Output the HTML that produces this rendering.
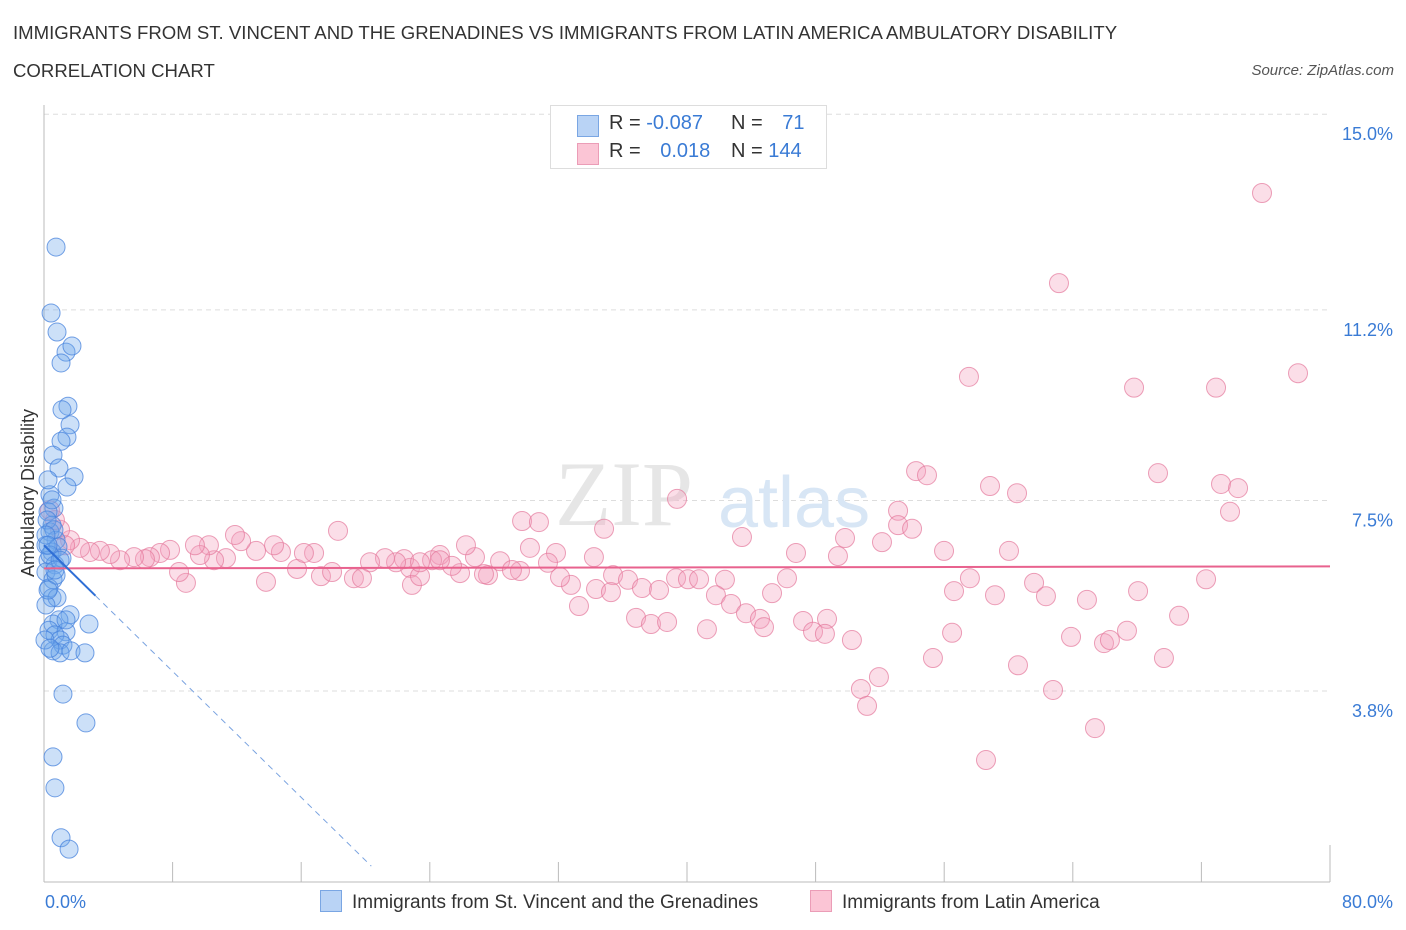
<!DOCTYPE html>
<html><head><meta charset="utf-8"><style>
body{margin:0;background:#fff;font-family:"Liberation Sans",sans-serif;}
#wrap{position:relative;width:1406px;height:930px;overflow:hidden;}
.t{position:absolute;}
</style></head><body>
<div id="wrap">
<div class="t" style="left:13px;top:14px;font-size:18.6px;color:#333;line-height:38px;">IMMIGRANTS FROM ST. VINCENT AND THE GRENADINES VS IMMIGRANTS FROM LATIN AMERICA AMBULATORY DISABILITY<br>CORRELATION CHART</div>
<div class="t" style="right:12px;top:62px;font-size:15px;color:#555;font-style:italic;">Source: ZipAtlas.com</div>
<svg id="svg" width="1406" height="930" style="position:absolute;left:0;top:0"></svg>
</div>
<script>
const xTicks=[0,80];
const yTicks=[3.8,7.5,11.2,15.0];
const blueX=[0.75,0.44,0.81,1.37,1.74,1.06,1.49,1.12,1.62,1.43,1.06,0.56,0.93,1.87,1.43,0.37,0.62,0.25,0.50,0.37,0.75,0.12,0.50,0.25,0.68,0.12,0.56,0.31,0.50,0.81,0.12,1.62,0.93,0.56,2.80,0.31,1.37,0.68,1.00,1.18,0.56,1.00,1.68,2.55,1.18,2.61,0.56,0.68,1.06,1.56,0.25,0.19,0.87,0.37,0.62,0.12,1.12,0.75,0.25,1.37,0.06,0.37,1.00,0.68,0.25,0.50];
const blueY=[12.42,11.14,10.77,10.38,10.50,10.17,9.33,9.26,8.97,8.73,8.65,8.38,8.13,7.96,7.76,7.61,7.35,7.28,7.02,6.89,6.73,6.63,6.50,6.34,6.25,6.11,5.96,5.80,5.61,5.61,5.47,5.28,5.18,5.10,5.10,4.98,4.95,4.89,4.79,4.69,4.58,4.54,4.58,4.54,3.74,3.18,2.52,1.92,0.95,0.73,7.90,7.12,6.60,6.44,6.93,6.83,6.38,6.05,5.76,5.18,4.79,4.63,6.34,6.15,6.63,7.51];
const pinkX=[75.77,63.14,57.54,67.81,72.91,78.01,54.25,54.93,58.85,60.53,69.30,73.22,74.28,73.78,39.38,53.13,53.13,54.00,52.13,49.83,43.42,29.74,30.79,34.84,55.99,60.03,46.78,49.39,39.32,40.06,40.75,42.36,46.22,57.60,61.59,72.29,56.61,59.16,62.33,64.88,68.06,41.80,45.29,42.74,43.67,44.54,44.79,47.22,48.71,47.84,48.58,36.83,37.76,38.76,41.24,50.26,56.49,63.89,65.94,66.31,67.37,70.61,55.30,60.59,69.67,51.94,50.82,51.20,62.77,65.38,58.60,33.28,32.78,32.10,34.34,35.40,36.33,37.20,35.27,38.26,30.23,31.85,34.21,31.35,29.61,27.62,28.37,26.81,26.25,24.63,24.14,22.77,22.40,21.90,21.21,20.28,19.28,19.78,18.29,17.23,17.92,15.74,14.74,16.80,16.17,14.31,13.81,13.19,12.26,11.88,11.32,10.58,10.26,9.70,9.39,8.83,8.40,7.84,7.22,6.59,6.28,5.60,4.73,4.11,3.48,2.86,2.24,1.62,1.00,0.68,0.37,1.31,22.89,23.39,25.88,25.38,27.37,29.11,23.39,24.63];
const pinkY=[13.47,11.72,9.90,9.69,9.69,9.97,8.07,7.99,7.78,7.64,8.03,7.82,7.74,7.28,7.53,7.30,7.02,6.95,6.69,6.77,6.79,7.10,7.08,6.95,6.52,6.52,6.48,6.42,5.99,5.97,5.97,5.96,5.99,5.99,5.90,5.97,5.74,5.66,5.64,5.57,5.74,5.66,5.70,5.49,5.31,5.20,5.04,5.16,5.20,4.95,4.91,5.22,5.10,5.14,5.00,4.79,4.93,4.85,4.73,4.79,4.97,5.26,4.44,4.30,4.44,4.07,3.84,3.51,3.82,3.08,2.46,5.45,5.86,6.01,5.78,6.05,5.96,5.80,5.72,5.76,6.58,6.48,6.40,6.29,6.13,6.05,6.32,6.40,6.63,6.44,6.34,6.19,6.36,6.30,6.38,6.30,5.99,5.99,6.91,6.03,6.11,6.17,6.50,6.48,6.48,6.63,5.92,6.52,6.71,6.83,6.38,6.34,6.63,6.44,6.63,5.90,6.11,6.54,6.48,6.40,6.36,6.40,6.34,6.46,6.52,6.50,6.58,6.73,6.93,7.12,7.31,6.63,5.86,6.03,6.09,6.23,6.07,6.15,6.30,6.34];
const blueTrend=[6.63,-0.306];
const pinkTrend=[6.18,0.0005];

const NS="http://www.w3.org/2000/svg";
const svg=document.getElementById('svg');
const X0=44,X1=1330,YB=882;
function xs(v){return X0+(v-xTicks[0])/(xTicks[1]-xTicks[0])*(X1-X0);}
function ys(v){return 691-(v-3.8)*51.5;}
function el(t,a,p){const e=document.createElementNS(NS,t);for(const k in a)e.setAttribute(k,a[k]);(p||svg).appendChild(e);return e;}

yTicks.forEach(v=>{
 const g=el('line',{x1:X0,x2:X1,y1:ys(v),y2:ys(v),stroke:'#ddd','stroke-dasharray':'5,4'});
 
 
 const t=el('text',{x:1393,y:ys(v)+26,'text-anchor':'end','font-size':18,fill:'#3a7bd5','font-family':'Liberation Sans'});
 t.textContent=v.toFixed(1)+'%';
 
 
});
const ax=el('line',{x1:X0,x2:X1,y1:YB,y2:YB,stroke:'#bbb'});


const ay=el('line',{x1:X0,x2:X0,y1:105,y2:YB,stroke:'#bbb'});


for(let i=0;i<=10;i++){
 const x=X0+i*(X1-X0)/10;
 const tk=el('line',{x1:x,x2:x,y1:i==0||i==10?845:862,y2:YB,stroke:'#bbb'});
 
 
}
xTicks.forEach((v,i)=>{
 const t=el('text',{x:i==0?45:1393,y:908,'text-anchor':i==0?'start':'end','font-size':18,fill:'#3a7bd5','font-family':'Liberation Sans'});
 t.textContent=v.toFixed(1)+'%';
 
 
});
const wm=el('text',{x:555,y:525,'font-size':92,fill:'#e6e6e6','font-family':'Liberation Serif'});
wm.textContent='ZIP';


const wm2=el('text',{x:718,y:527,'font-size':72,fill:'#d8e6f5','font-family':'Liberation Sans'});
wm2.textContent='atlas';



const yl=el('text',{x:0,y:0,transform:'translate(34,493) rotate(-90)','text-anchor':'middle','font-size':18,fill:'#333','font-family':'Liberation Sans'});
yl.textContent='Ambulatory Disability';



pinkX.forEach((v,i)=>{
 const c=el('circle',{cx:xs(v),cy:ys(pinkY[i]),r:9.5,fill:'rgba(244,160,188,0.35)',stroke:'rgba(228,120,155,0.7)','stroke-width':1});
 
 
});
blueX.forEach((v,i)=>{
 const c=el('circle',{cx:xs(v),cy:ys(blueY[i]),r:9,fill:'rgba(110,165,235,0.35)',stroke:'rgba(70,130,220,0.75)','stroke-width':1});
 
 
});
const pt=el('line',{x1:xs(0),x2:xs(80),y1:ys(pinkTrend[0]),y2:ys(pinkTrend[0]+pinkTrend[1]*80),stroke:'#e8628e','stroke-width':2});


const bt=el('line',{x1:xs(0),x2:xs(3.2),y1:ys(blueTrend[0]),y2:ys(blueTrend[0]+blueTrend[1]*3.2),stroke:'#2f6fd6','stroke-width':2});


const bxEnd=(0.4-blueTrend[0])/blueTrend[1];
const bd=el('line',{x1:xs(3.2),x2:xs(bxEnd),y1:ys(blueTrend[0]+blueTrend[1]*3.2),y2:ys(0.4),stroke:'#7aa3e0','stroke-width':1,'stroke-dasharray':'6,5'});


</script>
<div class="t" style="left:550px;top:105px;width:275px;height:62px;border:1px solid #ddd;background:#fff;font-size:20px;color:#333;">
 <div style="position:absolute;left:26px;top:9px;width:20px;height:20px;background:#b9d3f5;border:1px solid #7aa6e3;"></div>
 <div style="position:absolute;left:58px;top:6px;">R = <span style="color:#3a7bd5">-0.087</span></div>
 <div style="position:absolute;left:180px;top:6px;">N = <span style="color:#3a7bd5;margin-left:14px">71</span></div>
 <div style="position:absolute;left:26px;top:37px;width:20px;height:20px;background:#fbc5d5;border:1px solid #eb9db7;"></div>
 <div style="position:absolute;left:58px;top:34px;">R = <span style="color:#3a7bd5;margin-left:14px">0.018</span></div>
 <div style="position:absolute;left:180px;top:34px;">N = <span style="color:#3a7bd5">144</span></div>
</div>
<div class="t" style="left:320px;top:890px;font-size:19px;color:#333;">
 <span style="display:inline-block;width:20px;height:20px;background:#b9d3f5;border:1px solid #7aa6e3;vertical-align:-4px;margin-right:10px;"></span>Immigrants from St. Vincent and the Grenadines</div>
<div class="t" style="left:810px;top:890px;font-size:19px;color:#333;">
 <span style="display:inline-block;width:20px;height:20px;background:#fbc5d5;border:1px solid #eb9db7;vertical-align:-4px;margin-right:10px;"></span>Immigrants from Latin America</div>
</body></html>
